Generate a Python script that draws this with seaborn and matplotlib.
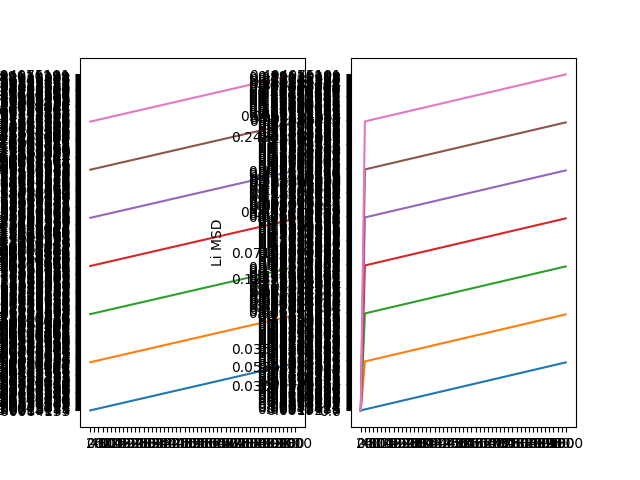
import matplotlib
matplotlib.use("Agg")
import matplotlib.pyplot as plt
import seaborn as sns

# time axis (kept as strings, like the original data)
times = """0 20 40 60 80 100 120 140 160 180 200 220 240 260 280 300 320 340 360 380
400 420 440 460 480 500 520 540 560 580 600 620 640 660 680 700 720 740 760 780
800 820 840 860 880 900 920 940 960 980 1000""".split()

# Li MSD per run, stored as strings
msd_run1 = """
0.00084133 0.0019277 0.00315488 0.0042611 0.00533874 0.00659211 0.0077205 0.00886532 0.00998173 0.0112439
0.0123704 0.01351828 0.0146920 0.01580436 0.0169513 0.01807693 0.0192348 0.02039177 0.0215073 0.02264892
0.0237910 0.02492039 0.0260588 0.02721396 0.0283462 0.02948104 0.03062749316 0.03176920 0.0329058 0.03405274
0.0351846 0.03632919 0.0374611 0.03860743 0.0397429 0.04088133 0.0420195 0.04316381 0.0442985 0.04543729
0.0465791 0.04771620 0.0488537 0.04999413 0.0511329 0.05227042 0.05340973129 0.05454721 0.0556864 0.05682392
0.0579621
""".split()

msd_run2 = """
0.00168329 0.0038519 0.00612749 0.0083927 0.01067284 0.0129543 0.01523187 0.0175084 0.01978615 0.0220639
0.02434167 0.0266194 0.02889714 0.0311748 0.03345259 0.03573024892 0.03800802 0.0402858 0.04256343 0.0448412
0.04711893 0.0493966 0.05167436 0.0539520 0.05622978 0.0585074 0.06078519 0.0630628 0.06534060 0.0676183
0.06989602 0.0721737 0.07445143 0.0767291 0.07900684 0.0812845 0.08356225 0.0858399 0.08811766 0.0903953
0.09267307 0.0949507 0.09722848 0.0995061 0.10178390 0.1040616 0.10633931 0.1086170 0.11089472 0.1131724
0.11545013
""".split()

msd_run3 = """
0.002524936 0.00577832 0.009191284 0.01258903 0.016009263 0.01943146 0.022847804 0.02626264 0.029679228 0.03309588
0.036512506 0.03992908 0.043345714 0.04676221 0.050178890 0.05359537 0.057012026 0.06042865 0.063845145 0.06726178
0.070678399 0.07409491 0.077511540 0.08092802 0.084344672 0.08776115 0.091177788 0.09459427 0.098010906 0.10142739
0.104844024 0.10826050 0.111677140 0.11509362 0.118510257 0.12192674 0.125343374 0.12875985801 0.132176492 0.13559298
0.139009609 0.14242609 0.145842728 0.14925921 0.152675843 0.15609233 0.159508960 0.16292544 0.166342078 0.16975856
0.173175195
""".split()

msd_run4 = """
0.00336658 0.0077047 0.01225458 0.0167853 0.02134568 0.0259086 0.03046374 0.0350169 0.03957230 0.0441278
0.04868334 0.0532388 0.05779429 0.0623496 0.06690519 0.07146049783 0.07601603 0.0805715 0.08512686 0.0896824
0.09423787 0.0987932 0.10334872 0.1079040 0.11245956 0.1170149 0.12157038 0.1261257 0.13068121 0.1352365
0.13979203 0.1443473 0.14890285 0.1534582 0.15801368 0.1625690 0.16712450 0.1716798 0.17623532 0.1807906
0.18534615 0.1899015 0.19445697 0.1990123 0.20356779 0.2081231 0.21267862 0.2172339 0.22178944 0.2263448
0.23090026
""".split()

msd_run5 = """
0.004208228 0.00963101 0.015317866 0.02098158 0.026682106 0.03238577 0.038079673 0.0437710660 0.049465381 0.05515980
0.060854177 0.06654846 0.072242857 0.07793702 0.083631483 0.08932562 0.095020043 0.10071441 0.106408575 0.11210297
0.117797332 0.12349152 0.129185900 0.13488004 0.140574454 0.14626859 0.151962970 0.15765711 0.163351490 0.16904563
0.174740010 0.18043415 0.186128530 0.19182267 0.197517050 0.20321119 0.208905570 0.21459971 0.220294090 0.22598823
0.231682610 0.23737675 0.243071130 0.24876527 0.254459650 0.26015379 0.265848170 0.27154231 0.277236690 0.28293083
0.288625210
""".split()

msd_run6 = """
0.00504987 0.0115573 0.01838115 0.0251779 0.03201853 0.0388629 0.04569561 0.0525253 0.05935846 0.0661918
0.07302501 0.0798582 0.08669143 0.0935244 0.10035778 0.1071907 0.11402405 0.1208573 0.12769029 0.1345236
0.14135680 0.1481898 0.15502308 0.1618560 0.16868934 0.1755223 0.18235556 0.1891885 0.19602177 0.2028547
0.20968799 0.2165210 0.22335421 0.2301872 0.23702042 0.24385339601 0.25068664 0.2575196 0.26435286 0.2711858
0.27801907 0.2848520 0.29168529 0.2985183 0.30535151 0.3121845 0.31901772 0.3258507 0.33268394 0.3395169
0.34635016
""".split()

msd_run7 = """
0.005891519 0.01348359 0.021444440 0.02937412 0.037354950 0.04534007 0.053311542 0.0612794924 0.069251533 0.07722371
0.085195848 0.09316785 0.101139999 0.10911182 0.117084076 0.12505587 0.133028051 0.14100017 0.148972005 0.15694416
0.164916264 0.17288813 0.180860259 0.18883205 0.196804235 0.20477603 0.212748142 0.22071995 0.228692056 0.23666386
0.244635969 0.25260777 0.260579882 0.26855169 0.276523796 0.28449560 0.292467709 0.30043951 0.308411622 0.31638343
0.324355535 0.33232734 0.340299449 0.34827125 0.356243362 0.36421517 0.372187275 0.38015908 0.388131188 0.39610299
0.404075101
""".split()

runs = [msd_run1, msd_run2, msd_run3, msd_run4, msd_run5, msd_run6, msd_run7]

# second panel: same runs, MSD referenced to zero at t = 0
msd_at_zero = "0.0"

fig, (ax1, ax2) = plt.subplots(1, 2)

for i, run in enumerate(runs):
    sns.lineplot(x=times, y=run, ax=ax1, color=f"C{i}",
                 estimator=None, sort=False)

for i, run in enumerate(runs):
    shifted = [msd_at_zero] + run[1:]
    sns.lineplot(x=times, y=shifted, ax=ax2, color=f"C{i}",
                 estimator=None, sort=False)

for ax in (ax1, ax2):
    # seaborn flips a categorical y axis; put the first category at the bottom
    if ax.yaxis_inverted():
        ax.invert_yaxis()
    ax.set_xlabel("")
    ax.set_ylabel("Li MSD")

fig.savefig("out.png", dpi=100)
